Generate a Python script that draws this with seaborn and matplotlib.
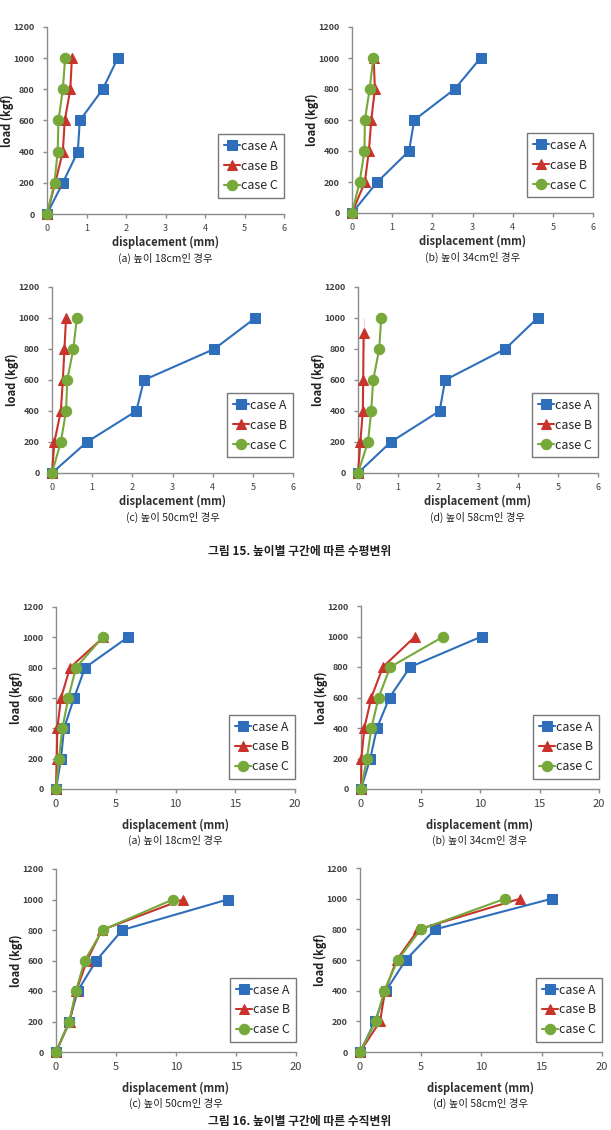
import seaborn as sns
import matplotlib.pyplot as plt

# Data: load steps and displacements (mm)
loads = [0, 200, 400, 600, 800, 1000]
cases = ['case A', 'case B', 'case C']

# Fig. 15 - horizontal displacement
h18_A = [0, 0.40, 0.78, 0.83, 1.41, 1.79]
h18_B = [0, 0.21, 0.40, 0.45, 0.59, 0.63]
h18_C = [0, 0.19, 0.27, 0.29, 0.40, 0.46]
h34_A = [0, 0.63, 1.42, 1.55, 2.56, 3.20]
h34_B = [0, 0.32, 0.42, 0.48, 0.57, 0.54]
h34_C = [0, 0.19, 0.31, 0.32, 0.44, 0.53]
h50_A = [0, 0.87, 2.10, 2.29, 4.04, 5.06]
h50_B = [0, 0.06, 0.22, 0.27, 0.31, 0.35]
h50_C = [0, 0.22, 0.35, 0.38, 0.53, 0.62]
h58_A = [0, 0.82, 2.04, 2.18, 3.68, 4.49]
h58_B = [0, 0.06, 0.12, 0.13, 0.14, 0.14]
h58_C = [0, 0.25, 0.33, 0.38, 0.53, 0.58]

# Fig. 16 - second displacement set
v18_A = [0, 0.42, 0.67, 1.51, 2.43, 6.00]
v18_B = [0, 0.06, 0.11, 0.42, 1.17, 3.96]
v18_C = [0, 0.25, 0.53, 1.03, 1.67, 3.90]
v34_A = [0, 0.78, 1.34, 2.40, 4.13, 10.14]
v34_B = [0, 0.03, 0.28, 0.87, 1.84, 4.55]
v34_C = [0, 0.50, 0.87, 1.48, 2.46, 6.93]
v50_A = [0, 1.11, 1.80, 3.36, 5.52, 14.31]
v50_B = [0, 1.14, 1.69, 2.58, 3.83, 10.57]
v50_C = [0, 1.11, 1.66, 2.39, 3.88, 9.74]
v58_A = [0, 1.24, 2.15, 3.78, 6.21, 15.86]
v58_B = [0, 1.66, 2.07, 3.03, 4.83, 13.24]
v58_C = [0, 1.32, 2.01, 3.12, 5.02, 12.00]

captions = ['(a) 높이 18cm인 경우', '(b) 높이 34cm인 경우',
            '(c) 높이 50cm인 경우', '(d) 높이 58cm인 경우']
fig_titles = ['그림 15. 높이별 구간에 따른 수평변위',
              '그림 16. 높이별 구간에 따른 수직변위']

sns.set_style('white')
plt.rcParams['font.family'] = ['Noto Sans CJK KR', 'DejaVu Sans']

W, H = 611, 1130
fig = plt.figure(figsize=(W / 100, H / 100), dpi=100)

colors = ['#2F6EBA', '#C8332B', '#76A83A']
markers = ['s', '^', 'o']
msizes = [6.5, 7, 7.5]


def px_axes(l, r, t, b):
    return fig.add_axes([l / W, 1 - b / H, (r - l) / W, (b - t) / H])


def panel(box, series, xmax, xstep, caption, xtick_fs, lab_off, cap_off, leg_bottom):
    l, r, t, b = box
    ax = px_axes(l, r, t, b)
    for i, xs in enumerate(series):
        sns.lineplot(x=xs, y=loads, ax=ax, sort=False, color=colors[i],
                     marker=markers[i], markersize=msizes[i],
                     markeredgecolor=colors[i], linewidth=1.5, label=cases[i],
                     clip_on=False, zorder=3 + i)
    ax.set_xlim(0, xmax)
    ax.set_ylim(0, 1200)
    ax.set_xticks(range(0, xmax + 1, xstep))
    ax.set_yticks(range(0, 1201, 200))
    for s in ['top', 'right']:
        ax.spines[s].set_visible(False)
    for s in ['left', 'bottom']:
        ax.spines[s].set_color('#8C8C8C')
        ax.spines[s].set_linewidth(1)
    ax.tick_params(axis='y', direction='out', length=3, width=1, color='#8C8C8C',
                   labelsize=6.5, labelcolor='#404040', pad=6, left=True)
    ax.tick_params(axis='x', direction='out', length=3, width=1, color='#8C8C8C',
                   labelsize=xtick_fs, labelcolor='#404040', pad=4, bottom=True)
    for lbl in ax.get_yticklabels():
        lbl.set_fontweight('bold')
    ax.set_xlabel('')
    ax.set_ylabel('')
    cx = (l + r) / 2
    fig.text(cx / W, 1 - (b + lab_off) / H, 'displacement (mm)', ha='center',
             va='center', fontsize=8, fontweight='bold', color='#303030')
    fig.text(cx / W, 1 - (b + cap_off) / H, caption, ha='center', va='center',
             fontsize=7.5, color='#202020')
    fig.text((l - 40) / W, 1 - ((t + b) / 2) / H, 'load (kgf)', ha='center',
             va='center', rotation=90, fontsize=8, fontweight='bold', color='#202020')
    leg = ax.legend(loc='lower right', bbox_to_anchor=(1.0, leg_bottom),
                    borderaxespad=0, frameon=True, fancybox=False, fontsize=9,
                    handlelength=1.3, handletextpad=0.1, labelspacing=0.55,
                    borderpad=0.45)
    leg.get_frame().set_edgecolor('#555555')
    leg.get_frame().set_linewidth(1)
    leg.set_zorder(10)
    return ax


top_boxes = [(47, 284, 27, 214), (352, 593, 27, 213),
             (52, 293, 287, 473), (358, 598, 287, 473)]
bot_boxes = [(56, 295, 607, 789), (361, 599, 606, 789),
             (56, 296, 869, 1052), (360, 602, 868, 1052)]
top_series = [(h18_A, h18_B, h18_C), (h34_A, h34_B, h34_C),
              (h50_A, h50_B, h50_C), (h58_A, h58_B, h58_C)]
bot_series = [(v18_A, v18_B, v18_C), (v34_A, v34_B, v34_C),
              (v50_A, v50_B, v50_C), (v58_A, v58_B, v58_C)]

for box, ser, cap in zip(top_boxes, top_series, captions):
    panel(box, ser, 6, 1, cap, 6.5, 28, 44, 0.085)
for box, ser, cap in zip(bot_boxes, bot_series, captions):
    panel(box, ser, 20, 5, cap, 8, 36, 51, 0.055)

fig.text(300 / W, 1 - 552 / H, fig_titles[0], ha='center', va='center',
         fontsize=8.5, fontweight='bold', color='#202020')
fig.text(300 / W, 1 - 1122 / H, fig_titles[1], ha='center', va='center',
         fontsize=8.5, fontweight='bold', color='#202020')

fig.savefig('out.png', dpi=100)
plt.close()
